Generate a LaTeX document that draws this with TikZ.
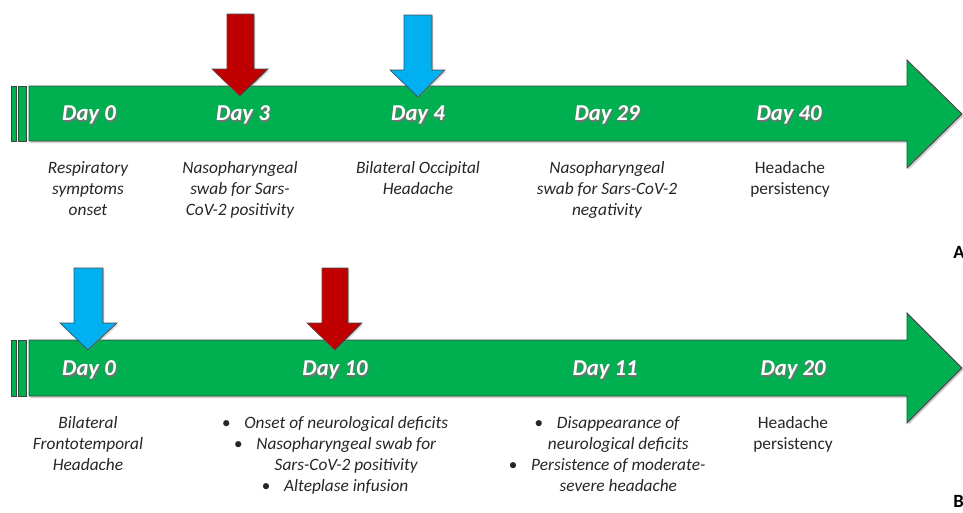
\documentclass[tikz,border=0pt]{standalone}
\usepackage{fontspec}
\setmainfont{Carlito}
\usetikzlibrary{shadows}
\definecolor{tlgreen}{HTML}{00B050}
\definecolor{evred}{HTML}{C00000}
\definecolor{evblue}{HTML}{00B0F0}
\newcommand\bul{\makebox[1.3em][l]{•}}
\newcommand\nobul{\hspace{1.3em}}
\tikzset{
  px/.style={x=0.75pt,y=-0.75pt},
  greenbar/.style={fill=tlgreen, draw=black!75, line width=0.6pt, line join=miter,
    drop shadow={opacity=0.35, shadow xshift=1.2pt, shadow yshift=-1.5pt}},
  strip/.style={fill=tlgreen, draw=black!75, line width=0.6pt},
  downarrow/.style={draw=black!70, line width=0.5pt, line join=miter,
    drop shadow={opacity=0.3, shadow xshift=1pt, shadow yshift=-1.2pt}},
  daytext/.style={text=white, font=\fontsize{17}{20}\selectfont\bfseries\itshape, inner sep=0pt},
  dayshadow/.style={text=black!55, font=\fontsize{17}{20}\selectfont\bfseries\itshape, inner sep=0pt},
  desc/.style={font=\fontsize{13}{15.75}\selectfont\itshape, align=center, anchor=north, inner sep=0pt, text=black!85},
  descup/.style={font=\fontsize{13}{15.75}\selectfont, align=center, anchor=north, inner sep=0pt, text=black!85},
  panel/.style={font=\fontsize{14}{16}\selectfont\bfseries, inner sep=0pt},
}
\newcommand\daylabel[4]{%
  \node[dayshadow] (#1s) at (#2+1.3,#3+1.5) {#4};
  \node[daytext] (#1) at (#2,#3) {#4};}
\begin{document}
\begin{tikzpicture}[px]
\useasboundingbox[fill=white] (0,0) rectangle (963,512);
\clip (0,0) rectangle (963,512);
% ---------- Timeline A ----------
\draw[strip] (11,86) rectangle (16,141);
\draw[strip] (18,86) rectangle (26,141);
\draw[greenbar] (29,86) -- (907,86) -- (907,60) -- (962,114) -- (907,168) -- (907,141) -- (29,141) -- cycle;
\draw[downarrow, fill=evred] (227,14) -- (254,14) -- (254,69) -- (268,69) -- (240,96) -- (212,69) -- (227,69) -- cycle;
\draw[downarrow, fill=evblue] (404,15) -- (432,15) -- (432,70) -- (445,70) -- (418,97) -- (390,70) -- (404,70) -- cycle;
\daylabel{a0}{89}{115}{Day 0}
\daylabel{a3}{243}{115}{Day 3}
\daylabel{a4}{418}{115}{Day 4}
\daylabel{a29}{607}{115}{Day 29}
\daylabel{a40}{789}{115}{Day 40}
\node[desc] (da0) at (88,161) {Respiratory\\symptoms\\onset};
\node[desc] (da3) at (240,161) {Nasopharyngeal\\swab for Sars-\\CoV-2 positivity};
\node[desc] (da4) at (418,161) {Bilateral Occipital\\Headache};
\node[desc] (da29) at (607,161) {Nasopharyngeal\\swab for Sars-CoV-2\\negativity};
\node[descup] (da40) at (790,161) {Headache\\persistency};
\node[panel, anchor=west] (pa) at (953,252) {A};
% ---------- Timeline B ----------
\draw[strip] (11,340) rectangle (16,396);
\draw[strip] (18,340) rectangle (26,396);
\draw[greenbar] (29,340) -- (907,340) -- (907,313) -- (962,368) -- (907,423) -- (907,396) -- (29,396) -- cycle;
\draw[downarrow, fill=evblue] (74,268) -- (103,268) -- (103,323) -- (117,323) -- (88,350) -- (60,323) -- (74,323) -- cycle;
\draw[downarrow, fill=evred] (322,268) -- (348,268) -- (348,323) -- (362,323) -- (335,350) -- (307,323) -- (322,323) -- cycle;
\daylabel{b0}{89}{370}{Day 0}
\daylabel{b10}{335}{370}{Day 10}
\daylabel{b11}{605}{370}{Day 11}
\daylabel{b20}{793}{370}{Day 20}
\node[desc] (db0) at (88,416) {Bilateral\\Frontotemporal\\Headache};
\node[desc] (db10) at (335,416) {\bul Onset of neurological deficits\\\bul Nasopharyngeal swab for\\\nobul Sars-CoV-2 positivity\\\bul Alteplase infusion};
\node[desc] (db11) at (607,416) {\bul Disappearance of\\\nobul neurological deficits\\\bul Persistence of moderate-\\\nobul severe headache};
\node[descup] (db20) at (793,416) {Headache\\persistency};
\node[panel, anchor=west] (pb) at (953,501) {B};
\end{tikzpicture}
\end{document}
